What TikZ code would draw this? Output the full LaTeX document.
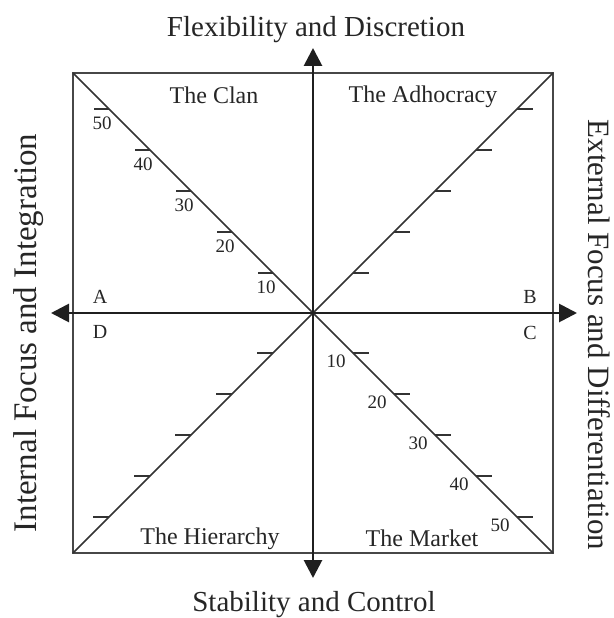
\documentclass[tikz,border=0pt]{standalone}
\usepackage{fontspec}
\setmainfont{Liberation Serif}
\usetikzlibrary{arrows.meta}

\begin{document}
\begin{tikzpicture}[
  x=1pt,
  y=-1pt,
  >={Triangle[length=18pt,width=18pt]},
  frame/.style={draw=black!72, line width=1.8pt},
  axis/.style={<->, draw=black!88, line width=2.8pt},
  diag/.style={draw=black!80, line width=1.5pt},
  tk/.style={draw=black!80, line width=1.8pt},
  ttl/.style={anchor=base, text=black!85, inner sep=0pt, font=\fontsize{29}{32}\selectfont},
  quad/.style={anchor=base, text=black!85, inner sep=0pt, font=\fontsize{24}{28}\selectfont},
  pole/.style={text=black!85, inner sep=0pt, font=\fontsize{20}{24}\selectfont},
  num/.style={text=black!85, inner sep=0pt, font=\fontsize{19}{21}\selectfont}
]
  \useasboundingbox (0,0) rectangle (613,618);

  \coordinate (O) at (313,313);
  \coordinate (tl) at (73,73);
  \coordinate (tr) at (553,73);
  \coordinate (bl) at (73,553);
  \coordinate (br) at (553,553);
  \coordinate (ntip) at (313,48);
  \coordinate (stip) at (313,578);
  \coordinate (wtip) at (51,313);
  \coordinate (etip) at (577,313);

  \draw[frame] (tl) rectangle (br);
  \draw[diag] (tl) -- (br);
  \draw[diag] (bl) -- (tr);
  \draw[axis] (stip) -- (ntip);
  \draw[axis] (wtip) -- (etip);

  \foreach \v [count=\k] in {10,20,30,40,50} {
    \pgfmathsetmacro{\d}{41*\k-1}
    \coordinate (clan\v) at (313-\d,313-\d);
    \coordinate (adho\v) at (313+\d,313-\d);
    \coordinate (hier\v) at (313-\d,313+\d);
    \coordinate (mark\v) at (313+\d,313+\d);
    \draw[tk] (clan\v) -- ++(-15,0);
    \draw[tk] (adho\v) -- ++(16,0);
    \draw[tk] (hier\v) -- ++(-16,0);
    \draw[tk] (mark\v) -- ++(16,0);
    \node[num] (cl\v) at (313-\d-7,313-\d+14) {\v};
    \node[num] (mk\v) at (313+\d-17,313+\d+8) {\v};
  }

  \node[ttl] (flex) at (316,37) {Flexibility and Discretion};
  \node[ttl] (stab) at (314,611) {Stability and Control};
  \node[ttl, rotate=90, font=\fontsize{33}{36}\selectfont] (intl) at (36,333) {Internal Focus and Integration};
  \node[ttl, rotate=-90, font=\fontsize{31}{34}\selectfont] (extl) at (588,335) {External Focus and Differentiation};

  \node[quad] (clan) at (214,103) {The Clan};
  \node[quad] (adho) at (423,102) {The Adhocracy};
  \node[quad] (hier) at (210,544) {The Hierarchy};
  \node[quad] (mark) at (422,546) {The Market};

  \node[pole] (A) at (100,297) {A};
  \node[pole] (B) at (530,297) {B};
  \node[pole] (C) at (530,333) {C};
  \node[pole] (D) at (100,332) {D};
\end{tikzpicture}
\end{document}
